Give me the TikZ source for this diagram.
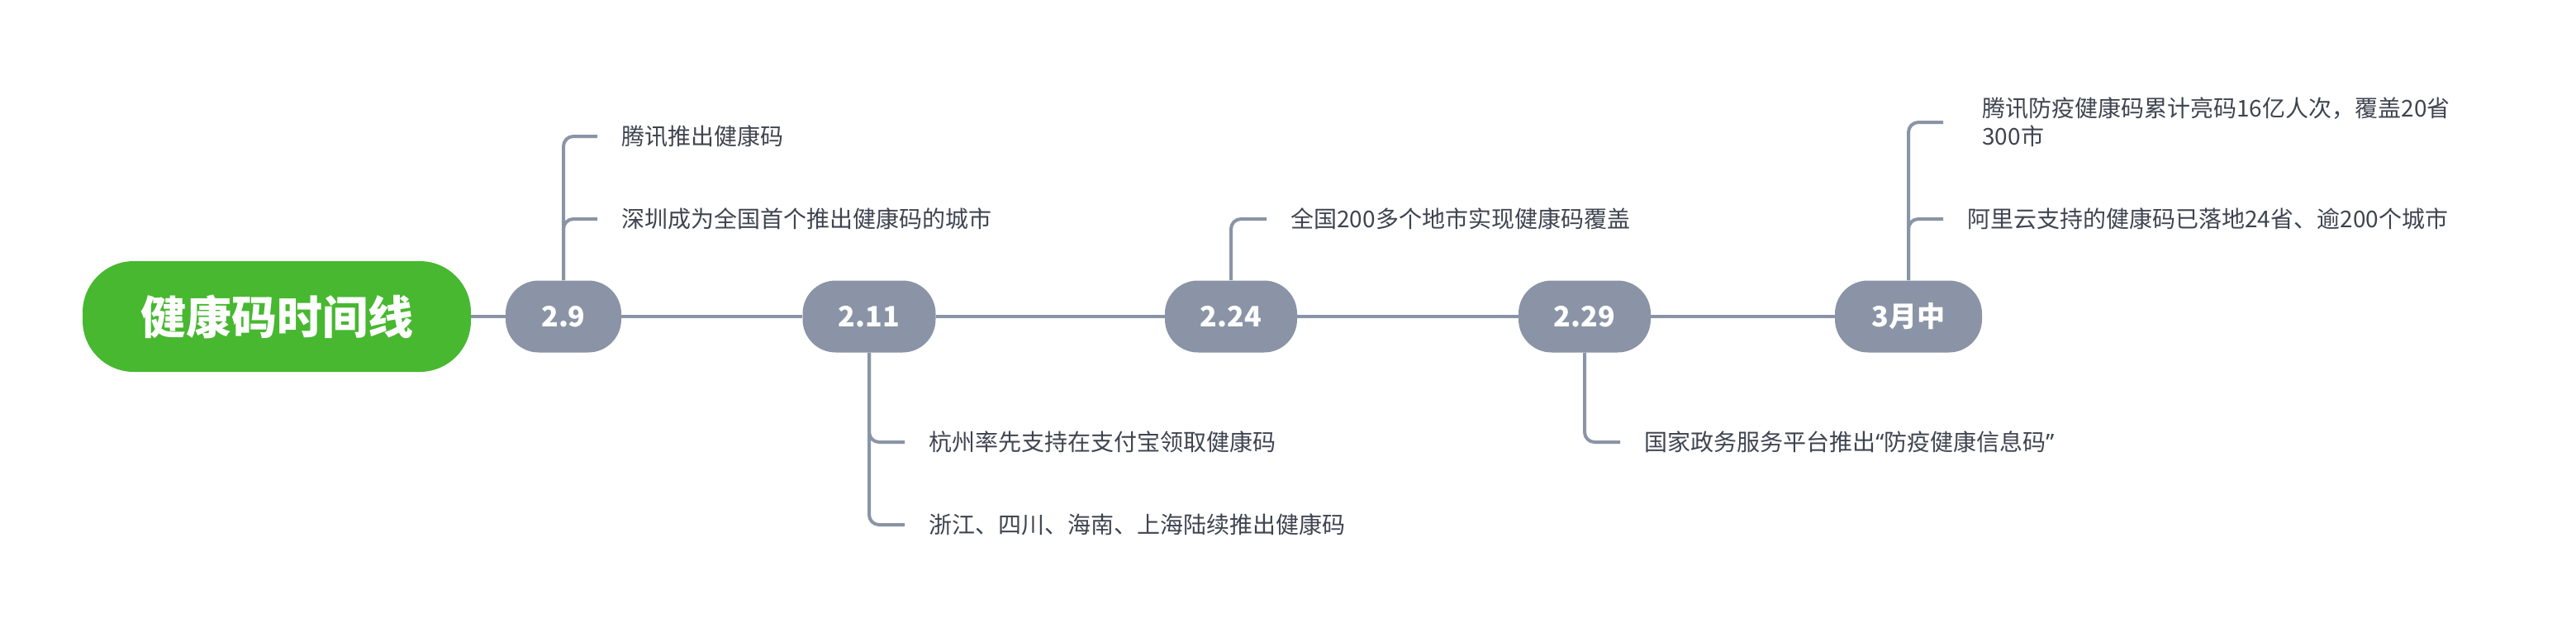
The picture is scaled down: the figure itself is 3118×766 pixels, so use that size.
\documentclass[tikz,border=0pt]{standalone}
\usepackage{fontspec}
\setmainfont{Noto Sans CJK SC}
\newfontfamily\latinq{Noto Sans}
\definecolor{rootgreen}{RGB}{71,184,48}
\definecolor{nodegray}{RGB}{138,148,166}
\definecolor{leaftext}{RGB}{62,68,80}
\tikzset{
  rootbox/.style={fill=rootgreen, rounded corners=31pt, minimum width=235pt, minimum height=67pt, text=white, font=\bfseries\fontsize{27.5pt}{30pt}\selectfont, inner sep=0pt},
  datebox/.style={fill=nodegray, rounded corners=20pt, minimum height=43.5pt, text=white, font=\bfseries\fontsize{17pt}{20pt}\selectfont, inner sep=0pt},
  leaf/.style={anchor=west, text=leaftext, font=\fontsize{14pt}{17pt}\selectfont, inner xsep=14.5pt, inner ysep=0pt, align=left},
  link/.style={draw=nodegray, line width=2pt},
  branch/.style={draw=nodegray, line width=2pt, rounded corners=6pt},
}
\begin{document}
\begin{tikzpicture}[x=0.5pt, y=-0.5pt]
\useasboundingbox (0,0) rectangle (3118,766);
\node[rootbox] (root) at (335,383) {健康码时间线};
\node[datebox, minimum width=70pt] (n29) at (682,383) {2.9};
\node[datebox, minimum width=80.5pt] (n211) at (1052,383) {2.11};
\node[datebox, minimum width=80pt] (n224) at (1490,383) {2.24};
\node[datebox, minimum width=80pt] (n229) at (1918,383) {2.29};
\node[datebox, minimum width=89pt] (n3) at (2310,383) {3月中};

\draw[link] (root) -- (n29);
\draw[link] (n29) -- (n211);
\draw[link] (n211) -- (n224);
\draw[link] (n224) -- (n229);
\draw[link] (n229) -- (n3);

\node[leaf] (l29a) at (723,165) {腾讯推出健康码};
\node[leaf] (l29b) at (723,265) {深圳成为全国首个推出健康码的城市};
\node[leaf] (l211a) at (1095,535) {杭州率先支持在支付宝领取健康码};
\node[leaf] (l211b) at (1095,635) {浙江、四川、海南、上海陆续推出健康码};
\node[leaf] (l224) at (1533,265) {全国200多个地市实现健康码覆盖};
\node[leaf] (l229) at (1961,535) {国家政务服务平台推出{\latinq “}防疫健康信息码{\latinq ”}};
\node[leaf, inner xsep=23.5pt] (l3a) at (2352,148) {腾讯防疫健康码累计亮码16亿人次，覆盖20省\\300市};
\node[leaf] (l3b) at (2352,265) {阿里云支持的健康码已落地24省、逾200个城市};

\draw[branch] (n29.north) |- (l29a.west);
\draw[branch] (n29.north) |- (l29b.west);
\draw[branch] (n211.south) |- (l211a.west);
\draw[branch] (n211.south) |- (l211b.west);
\draw[branch] (n224.north) |- (l224.west);
\draw[branch] (n229.south) |- (l229.west);
\draw[branch] (n3.north) |- (l3a.west);
\draw[branch] (n3.north) |- (l3b.west);
\end{tikzpicture}
\end{document}
